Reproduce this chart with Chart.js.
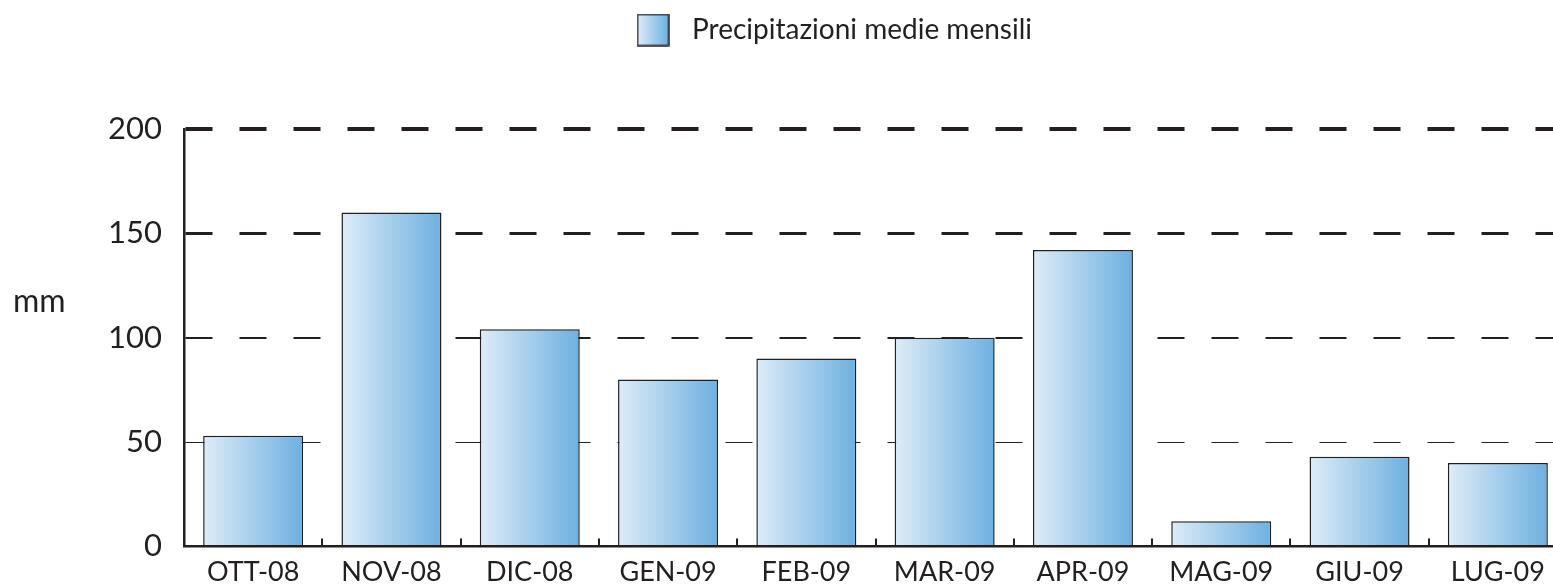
<!DOCTYPE html>
<html>
<head>
<meta charset="utf-8">
<script src="https://cdn.jsdelivr.net/npm/chart.js@4"></script>
<style>
    html, body { margin: 0; padding: 0; background: #fff; overflow: hidden; }
    #wrap { position: absolute; left: 0; top: 0; width: 1570px; height: 587px; }
</style>
</head>
<body>
<div id="wrap"><canvas id="chart"></canvas></div>
<script>
"use strict";

// 月
const months = ["OTT-08", "NOV-08", "DIC-08", "GEN-09", "FEB-09", "MAR-09", "APR-09", "MAG-09", "GIU-09", "LUG-09"];
// 降水量 (mm)
const rain = [53, 160, 104, 80, 90, 100, 142, 12, 43, 40];
// y軸目盛
const yTicks = [0, 50, 100, 150, 200];
const seriesName = "Precipitazioni medie mensili";
const unitLabel = "mm";

const TEXT = "#231f20";
const FONT = "Lato, 'Open Sans', sans-serif";
const LIGHT = "#deecf8";
const DARK = "#6db0e0";

// 凡例用のアイコン
const legendIcon = document.createElement("canvas");
legendIcon.width = 33;
legendIcon.height = 33;
(function () {
    const c = legendIcon.getContext("2d");
    const g = c.createLinearGradient(1, 0, 32, 0);
    g.addColorStop(0, LIGHT);
    g.addColorStop(1, DARK);
    c.fillStyle = g;
    c.fillRect(1, 1, 31, 31);
    c.strokeStyle = TEXT;
    c.lineWidth = 1.5;
    c.strokeRect(1, 1, 31, 31);
})();

const BAR_PCT = 0.723;

function barGradient(ctx) {
    const chart = ctx.chart;
    const xs = chart.scales.x;
    if (!chart.chartArea || !xs) return LIGHT;
    const cx = xs.getPixelForValue(ctx.dataIndex);
    const w = (xs.width / months.length) * BAR_PCT;
    const g = chart.ctx.createLinearGradient(cx - w / 2, 0, cx + w / 2, 0);
    g.addColorStop(0, LIGHT);
    g.addColorStop(1, DARK);
    return g;
}

// 目盛の小さな縦線と "mm"
const extras = {
    id: "extras",
    beforeInit(chart) {
        const lg = chart.legend;
        const fit = lg.fit;
        lg.fit = function () {
            fit.call(this);
            this.height = 129;
        };
    },
    afterDatasetsDraw(chart) {
        const c = chart.ctx;
        const xs = chart.scales.x;
        const step = xs.width / months.length;
        const bottom = chart.chartArea.bottom;
        c.save();
        c.strokeStyle = TEXT;
        c.lineWidth = 2;
        for (let i = 1; i < months.length; i++) {
            const x = Math.round(xs.left + step * i);
            c.beginPath();
            c.moveTo(x, bottom);
            c.lineTo(x, bottom - 8);
            c.stroke();
        }
        c.fillStyle = TEXT;
        c.font = "32px " + FONT;
        c.textBaseline = "middle";
        c.textAlign = "left";
        c.fillText(unitLabel, 13, 302);
        c.restore();
    }
};

const config = {
    type: "bar",
    data: {
        labels: months,
        datasets: [{
            label: seriesName,
            data: rain,
            backgroundColor: barGradient,
            borderColor: TEXT,
            borderWidth: 1.5,
            borderSkipped: false,
            categoryPercentage: 1,
            barPercentage: BAR_PCT,
            pointStyle: legendIcon
        }]
    },
    options: {
        responsive: true,
        maintainAspectRatio: false,
        animation: false,
        layout: { padding: { left: 93, right: 3, top: 0, bottom: 0 } },
        plugins: {
            tooltip: { enabled: false },
            legend: {
                position: "top",
                labels: {
                    usePointStyle: true,
                    pointStyleWidth: 50,
                    color: TEXT,
                    font: { family: FONT, size: 28 },
                    padding: 16
                }
            }
        },
        scales: {
            x: {
                grid: { display: false, drawTicks: false },
                border: { display: true, color: TEXT, width: 2.5 },
                ticks: { color: TEXT, font: { family: FONT, size: 27 }, padding: 10 },
                afterFit: s => { s.height = 39; }
            },
            y: {
                min: 0,
                max: 200,
                afterBuildTicks: s => { s.ticks = yTicks.map(v => ({ value: v })); },
                grid: {
                    drawTicks: false,
                    color: TEXT,
                    lineWidth: ctx => ({ 0: 0, 50: 1, 100: 2, 150: 3, 200: 4 })[ctx.tick.value]
                },
                border: { display: true, color: TEXT, width: 2.5, dash: [27, 27] },
                ticks: { color: TEXT, font: { family: FONT, size: 31 }, padding: 22 },
                afterFit: s => { s.width = 91; }
            }
        }
    },
    plugins: [extras]
};

new Chart(document.getElementById("chart"), config);
</script>
</body>
</html>
